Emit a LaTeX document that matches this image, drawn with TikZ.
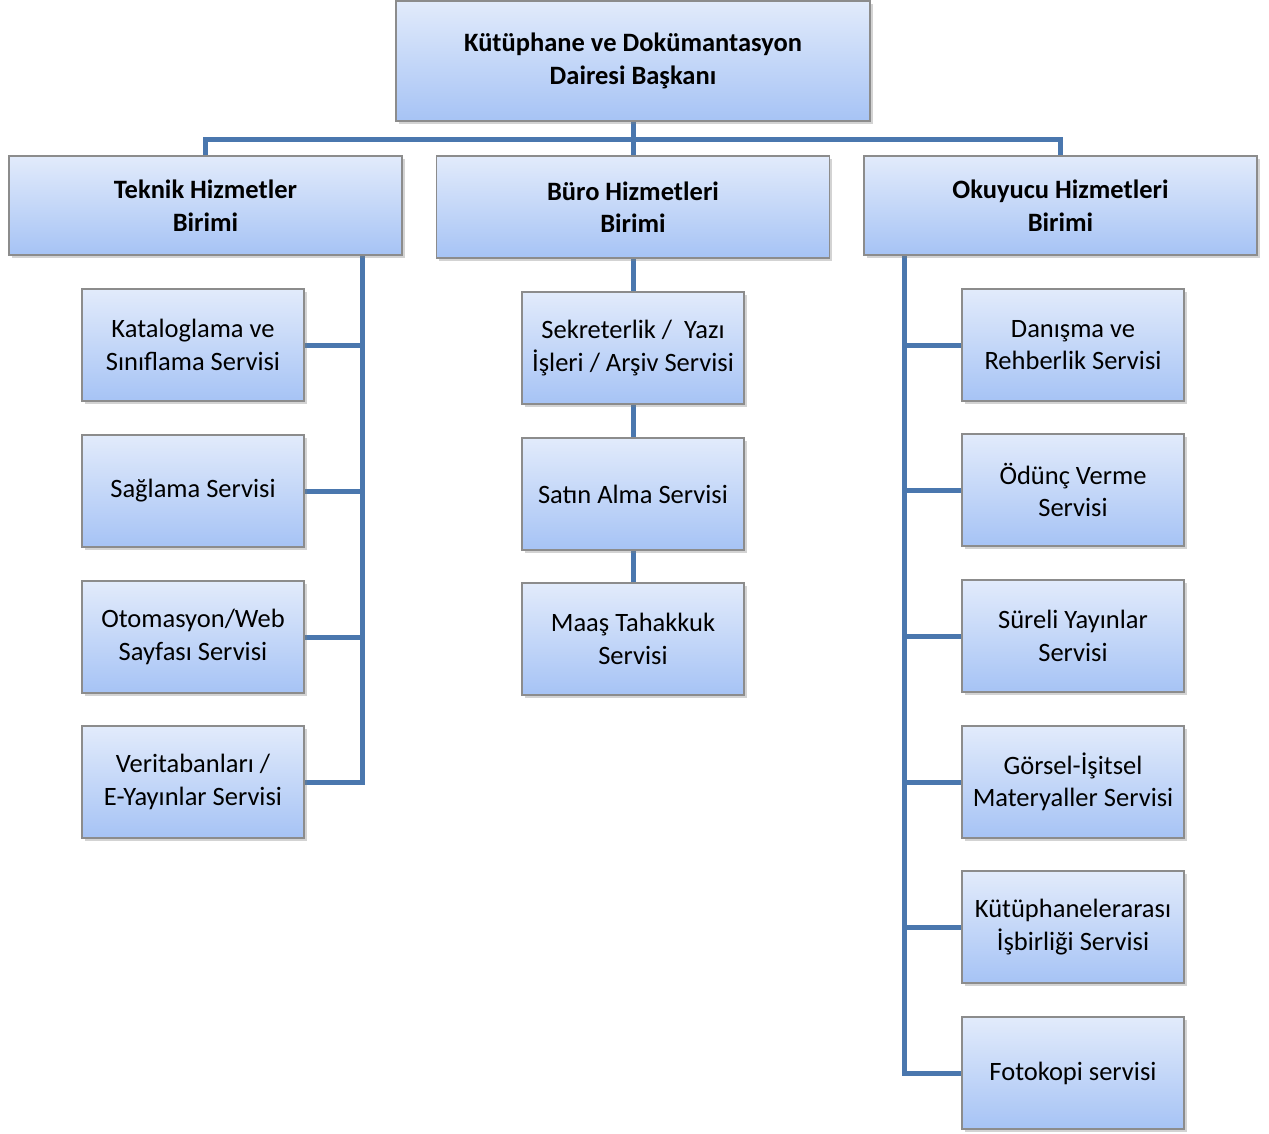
\documentclass[tikz,border=0pt]{standalone}
\usepackage{fontspec}
\setmainfont{Carlito}
\usetikzlibrary{shadows,backgrounds}
\definecolor{topc}{HTML}{E2EBFB}
\definecolor{botc}{HTML}{A6C3F5}
\definecolor{edge}{HTML}{8C8C8C}
\definecolor{conn}{HTML}{4A77AE}
\tikzset{
  box/.style={draw=edge, line width=1.2pt, top color=topc, bottom color=botc,
    inner sep=0pt, align=center, font=\fontsize{26.5}{32.5}\selectfont,
    drop shadow={opacity=0.35, shadow xshift=2.5pt, shadow yshift=-3pt}},
  head/.style={box, font=\fontsize{26.5}{32.5}\selectfont\bfseries},
  svc/.style={box, minimum width=222pt, minimum height=112pt},
  lvl/.style={head, minimum width=393pt, minimum height=99pt},
  link/.style={draw=conn, line width=5pt}
}
\begin{document}
\begin{tikzpicture}[x=1pt,y=-1pt]
\useasboundingbox (0,0) rectangle (1269,1133);
% nodes
\node[head, minimum width=474pt, minimum height=120pt] (top) at (633,61) {Kütüphane ve Dokümantasyon\\Dairesi Başkanı};
\node[lvl] (tek) at (205.5,205.5) {Teknik Hizmetler\\Birimi};
\node[lvl, minimum height=102pt] (buro) at (633,207) {Büro Hizmetleri\\Birimi};
\node[lvl] (oku) at (1060.5,205.5) {Okuyucu Hizmetleri\\Birimi};
% left services
\node[svc] (l1) at (193,345) {Kataloglama ve\\Sınıflama Servisi};
\node[svc] (l2) at (193,491) {Sağlama Servisi};
\node[svc] (l3) at (193,637) {Otomasyon/Web\\Sayfası Servisi};
\node[svc] (l4) at (193,782) {Veritabanları /\\E-Yayınlar Servisi};
% middle services
\node[svc] (m1) at (633,348) {Sekreterlik /\ \ Yazı\\İşleri / Arşiv Servisi};
\node[svc] (m2) at (633,494) {Satın Alma Servisi};
\node[svc] (m3) at (633,639) {Maaş Tahakkuk\\Servisi};
% right services
\node[svc] (r1) at (1073,345) {Danışma ve\\Rehberlik Servisi};
\node[svc] (r2) at (1073,490) {Ödünç Verme\\Servisi};
\node[svc] (r3) at (1073,636) {Süreli Yayınlar\\Servisi};
\node[svc] (r4) at (1073,782) {Görsel-İşitsel\\Materyaller Servisi};
\node[svc] (r5) at (1073,927) {Kütüphanelerarası\\İşbirliği Servisi};
\node[svc] (r6) at (1073,1073) {Fotokopi servisi};
\coordinate (bar) at (0,139);
\coordinate (lsp) at (362,0);
\coordinate (rsp) at (904,0);
% connectors
\begin{scope}[on background layer]
\draw[link] (top.south) -- (buro.north);
\draw[link] (tek.north) -- (tek.north |- bar) -- (oku.north |- bar) -- (oku.north);
\draw[link] (tek.south -| lsp) -- (l4.east -| lsp) -- (l4.east);
\foreach \n in {l1,l2,l3} \draw[link] (\n.east) -- (\n.east -| lsp);
\draw[link] (buro.south) -- (m1.north);
\draw[link] (m1.south) -- (m2.north);
\draw[link] (m2.south) -- (m3.north);
\draw[link] (oku.south -| rsp) -- (r6.west -| rsp) -- (r6.west);
\foreach \n in {r1,r2,r3,r4,r5} \draw[link] (\n.west) -- (\n.west -| rsp);
\end{scope}
\end{tikzpicture}
\end{document}
